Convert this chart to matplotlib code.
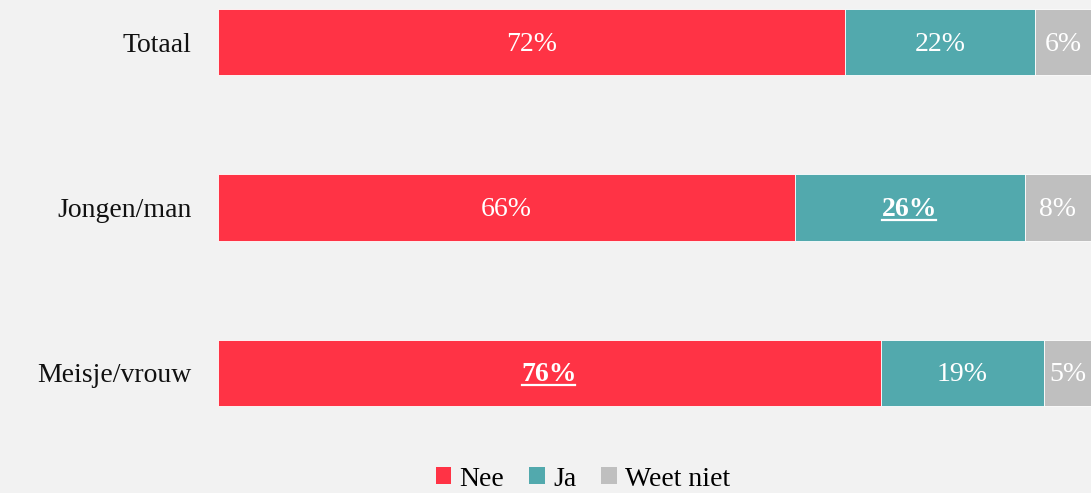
import matplotlib
matplotlib.use("Agg")
import matplotlib.pyplot as plt
from matplotlib.lines import Line2D
from matplotlib.patches import Patch

groups = ["Totaal", "Jongen/man", "Meisje/vrouw"]
series = ["Nee", "Ja", "Weet niet"]
nee = [71.8, 66.1, 75.9]
ja = [21.8, 26.3, 18.7]
weet_niet = [6.4, 7.6, 5.4]
# (group index, series index) of labels shown bold + underlined
highlight = [(1, 1), (2, 0)]

colors = ["#FF3345", "#52A9AD", "#BFBFBF"]
bg = "#F2F2F2"
font = "Liberation Serif"

fig = plt.figure(figsize=(10.91, 4.93), dpi=100, facecolor=bg)
ax = fig.add_axes([218 / 1091, 1 - 440 / 493, 1 - 218 / 1091, 440 / 493])
ax.set_facecolor(bg)

values = [nee, ja, weet_niet]
ypos = list(range(len(groups)))
left = [0.0] * len(groups)
texts = []
for si, (vals, col) in enumerate(zip(values, colors)):
    ax.barh(ypos, vals, left=left, height=0.4, color=col,
            edgecolor="white", linewidth=0.6)
    for gi, v in enumerate(vals):
        bold = (gi, si) in highlight
        t = ax.text(left[gi] + v / 2, ypos[gi] + 0.012, f"{round(v)}%",
                    ha="center", va="center", color="white",
                    fontsize=20, family=font,
                    fontweight="bold" if bold else "normal")
        if bold:
            texts.append(t)
    left = [l + v for l, v in zip(left, vals)]

ax.set_xlim(0, 100)
ax.set_ylim(2.405, -0.254)
ax.set_yticks(ypos)
ax.set_yticklabels(groups, fontsize=20, family=font, color="#111111")
ax.tick_params(axis="y", length=0, pad=19)
ax.set_xticks([])
for s in ax.spines.values():
    s.set_visible(False)

handles = [Patch(facecolor=c, edgecolor="none") for c in colors]
fig.legend(handles, series, loc="center", bbox_to_anchor=(583 / 1091, 1 - 479 / 493),
           ncol=3, frameon=False, handlelength=0.55, handleheight=0.55,
           handletextpad=0.3, columnspacing=0.9, borderpad=0.1,
           prop={"family": font, "size": 20})

# underline the highlighted labels
fig.canvas.draw()
r = fig.canvas.get_renderer()
for t in texts:
    bb = t.get_window_extent(renderer=r)
    y = bb.y0 + 2
    fig.add_artist(Line2D([bb.x0 / 1091, (bb.x1 - 2) / 1091], [y / 493, y / 493],
                          transform=fig.transFigure, color="white", linewidth=1.6))

fig.savefig("out.png", dpi=100, facecolor=bg)
